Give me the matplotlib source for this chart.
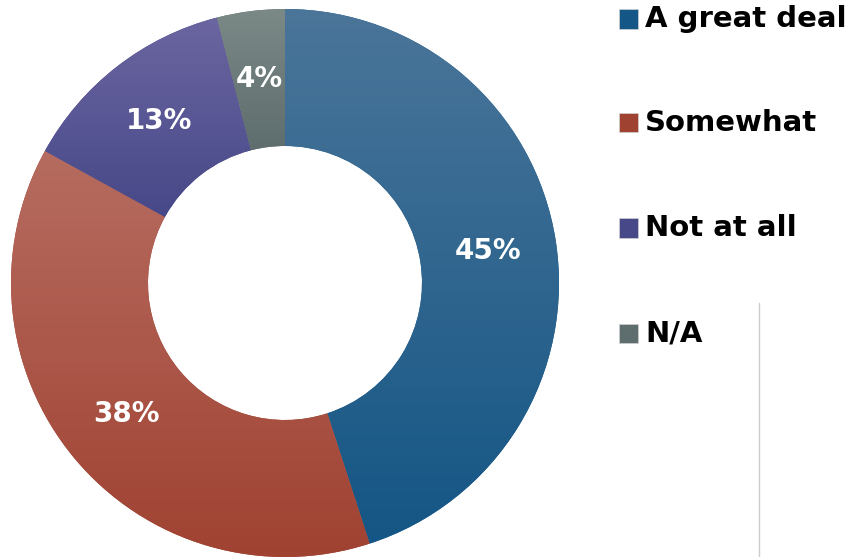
import numpy as np
import matplotlib
matplotlib.use("Agg")
import matplotlib.pyplot as plt
from matplotlib.colors import to_rgb
from matplotlib.patches import Rectangle
from matplotlib.lines import Line2D

# data
categories = ["A great deal", "Somewhat", "Not at all", "N/A"]
values = [45, 38, 13, 4]
# light (top) and dark (bottom) colour of each slice
top_colors = ["#4b7599", "#b66c60", "#6b66a1", "#7b8a87"]
bottom_colors = ["#145685", "#a04232", "#474888", "#5e6d6d"]

plt.rcParams['font.family'] = ['DejaVu Sans']

fig = plt.figure(figsize=(8.54, 5.57), dpi=100)
ax = fig.add_axes([11 / 854, 0.0, 548 / 854, 548 / 557])

wedges, texts, autotexts = ax.pie(
    values, startangle=90, counterclock=False, radius=1.0,
    wedgeprops=dict(width=0.5, linewidth=0),
    autopct='%d%%', pctdistance=0.75,
    textprops=dict(color='white', fontsize=20, fontweight='bold'))

# vertical gradient inside every slice, light at the top
for w, c_top, c_bot in zip(wedges, top_colors, bottom_colors):
    ext = w.get_path().get_extents()
    w.set_facecolor(c_bot)
    grad = np.linspace(0, 1, 256)[:, None]
    t = np.array(to_rgb(c_top))
    b = np.array(to_rgb(c_bot))
    img = t[None, None, :] * (1 - grad[..., None]) + b[None, None, :] * grad[..., None]
    im = ax.imshow(img, extent=(ext.x0, ext.x1, ext.y0, ext.y1), origin='upper',
                   aspect='auto', zorder=w.get_zorder() + 0.1, interpolation='bilinear')
    im.set_clip_path(w)

for t in autotexts:
    t.set_zorder(5)

ax.set_xlim(-1, 1)
ax.set_ylim(-1, 1)
ax.set_aspect('equal')
ax.axis('off')

# legend on the right
row_y = [19, 123, 228, 333]
for name, col, y in zip(categories, bottom_colors, row_y):
    fy = 1 - y / 557
    fig.patches.append(Rectangle((619 / 854, fy - 9.5 / 557), 19 / 854, 19 / 557,
                                 transform=fig.transFigure, facecolor=col,
                                 edgecolor='#d0d0d0', linewidth=0.5))
    fig.text(645 / 854, fy, name, fontsize=21, fontweight='bold',
             va='center', ha='left', color='black')

# thin divider line
fig.lines.append(Line2D([759 / 854, 759 / 854], [0, 1 - 303 / 557],
                        transform=fig.transFigure, color='#cccccc', linewidth=1))

fig.savefig("out.png", dpi=100)
